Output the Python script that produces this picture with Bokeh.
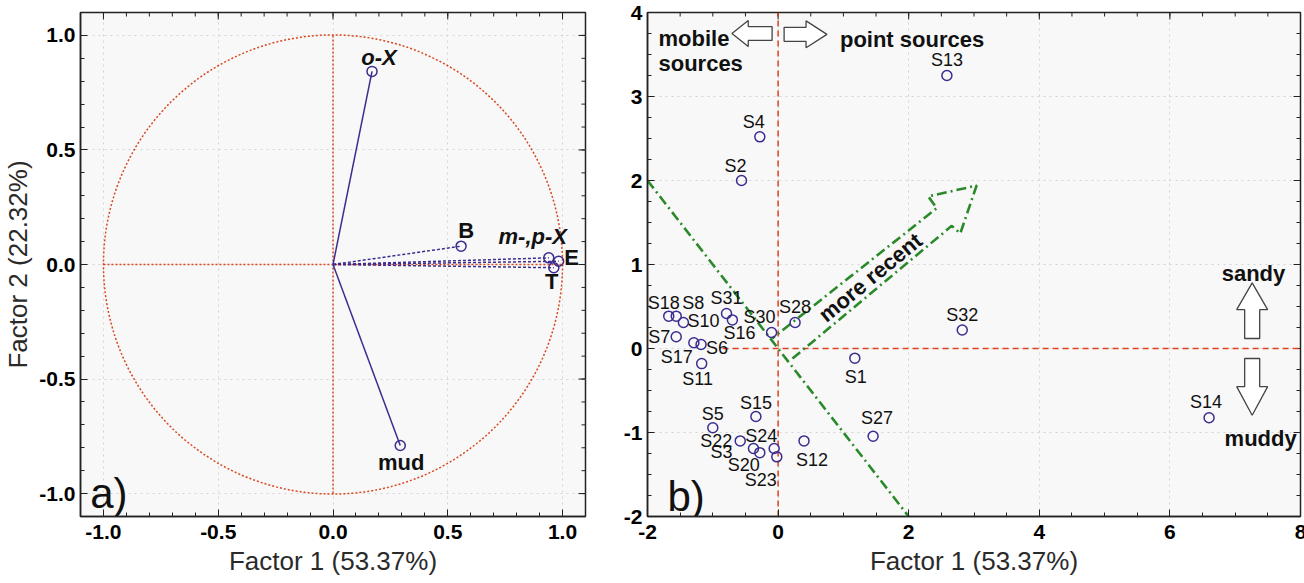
import numpy as np
from bokeh.plotting import figure
from bokeh.layouts import row
from bokeh.models import ColumnDataSource, FixedTicker, PrintfTickFormatter
from bokeh.core.properties import value
from bokeh.embed import file_html
from bokeh.resources import INLINE

# ---------------- data: panel a (factor loadings) ----------------
var_names = ["o-X", "B", "m-,p-X", "E", "T", "mud"]
var_f1 = [0.170, 0.558, 0.940, 0.983, 0.962, 0.293]
var_f2 = [0.843, 0.080, 0.029, 0.014, -0.014, -0.790]

# ---------------- data: panel b (factor scores) ----------------
site_names = ["S1", "S2", "S3", "S4", "S5", "S6", "S7", "S8", "S10", "S11",
              "S12", "S13", "S14", "S15", "S16", "S17", "S18", "S20", "S22",
              "S23", "S24", "S27", "S28", "S30", "S31", "S32"]
site_f1 = [1.175, -0.56, -0.377, -0.28, -1.00, -1.18, -1.56, -1.56, -1.45, -1.17,
           0.397, 2.585, 6.60, -0.34, -0.70, -1.29, -1.675, -0.28, -0.58,
           -0.02, -0.06, 1.455, 0.26, -0.10, -0.79, 2.82]
site_f2 = [-0.115, 2.00, -1.19, 2.52, -0.944, 0.048, 0.14, 0.385, 0.31, -0.18,
           -1.10, 3.25, -0.825, -0.81, 0.34, 0.068, 0.385, -1.24, -1.10,
           -1.29, -1.19, -1.044, 0.31, 0.19, 0.417, 0.22]

ticks_a = [-1.0, -0.5, 0.0, 0.5, 1.0]
ticks_bx = [-2, 0, 2, 4, 6, 8]
ticks_by = [-2, -1, 0, 1, 2, 3, 4]

x_title = "Factor 1 (53.37%)"
y_title = "Factor 2 (22.32%)"

# ---------------- styles ----------------
FONT = "Liberation Sans"
BLUE = "#3b2d8f"
RED = "#d9471f"
RED2 = "#e0401c"
GREEN = "#2a8a2a"
BG = "#f8f8f8"
FRAME = "#222222"
DASHDOT = "10 4 2 4"

# label offsets (pixels, screen: +x right, +y down)
var_offsets = {"o-X": (7, -14), "B": (5, -16), "m-,p-X": (-16, -21),
               "E": (13, -4), "T": (-2, 14), "mud": (1, 17)}
var_italic = {"o-X", "m-,p-X"}
var_solid = {"o-X", "mud"}

site_offsets = {"S1": (1, 19), "S2": (-6, -15), "S3": (-32, 4), "S4": (-6, -15),
                "S5": (0, -14), "S6": (16, 4), "S7": (-17, 0), "S8": (17, -13),
                "S10": (20, -1), "S11": (-4, 15), "S12": (8, 19), "S13": (0, -16),
                "S14": (-3, -16), "S15": (0, -14), "S16": (7, 13), "S17": (-17, 14),
                "S18": (-5, -13), "S20": (-16, 12), "S22": (-24, 0), "S23": (-16, 23),
                "S24": (-13, -12), "S27": (4, -18), "S28": (0, -15), "S30": (-12, -16),
                "S31": (0, -15), "S32": (0, -15)}


def style_fig(p, xt, yt, xminor, yminor, xr, yr, fmt, show_ytitle):
    p.xaxis.ticker = FixedTicker(ticks=xt, minor_ticks=xminor)
    p.yaxis.ticker = FixedTicker(ticks=yt, minor_ticks=yminor)
    p.xaxis.formatter = PrintfTickFormatter(format=fmt)
    p.yaxis.formatter = PrintfTickFormatter(format=fmt)
    p.xgrid.ticker = FixedTicker(ticks=xt)
    p.ygrid.ticker = FixedTicker(ticks=yt)
    for g in (p.xgrid[0], p.ygrid[0]):
        g.grid_line_color = "#d4d4d4"
        g.grid_line_dash = "dotted"
        g.grid_line_width = 1
    for ax in (p.xaxis[0], p.yaxis[0]):
        ax.major_label_text_font = FONT
        ax.major_label_text_font_style = "bold"
        ax.major_label_text_font_size = "21px"
        ax.major_label_text_color = "#000000"
        ax.axis_label_text_font = FONT
        ax.axis_label_text_font_style = "normal"
        ax.axis_label_text_font_size = "26px"
        ax.axis_label_text_color = "#2a2a2a"
        ax.axis_line_color = FRAME
        ax.axis_line_width = 1.5
        ax.major_tick_in = 7
        ax.major_tick_out = 0
        ax.minor_tick_in = 4
        ax.minor_tick_out = 0
        ax.major_tick_line_color = FRAME
        ax.minor_tick_line_color = FRAME
    p.xaxis[0].major_label_standoff = 8
    p.xaxis[0].axis_label_standoff = 4
    p.xaxis[0].axis_label = x_title
    p.yaxis[0].major_label_standoff = 5
    p.yaxis[0].axis_label_standoff = 3
    if show_ytitle:
        p.yaxis[0].axis_label = y_title
    # tick marks on the top and right frame edges (pointing inwards)
    xmaj = [t for t in xt if xr[0] < t < xr[1]]
    ymaj = [t for t in yt if yr[0] < t < yr[1]]
    xmin_ = [t for t in xminor if xr[0] < t < xr[1]]
    ymin_ = [t for t in yminor if yr[0] < t < yr[1]]
    for xs, ln in ((xmaj, 7), (xmin_, 4)):
        p.ray(x=xs, y=[yr[1]] * len(xs), length=ln, length_units="screen",
              angle=-np.pi / 2, line_color=FRAME, line_width=1)
    for ys, ln in ((ymaj, 7), (ymin_, 4)):
        p.ray(x=[xr[1]] * len(ys), y=ys, length=ln, length_units="screen",
              angle=np.pi, line_color=FRAME, line_width=1)


# ======================= panel a =======================
xr_a = (-1.1, 1.1)
p1 = figure(frame_width=505, frame_height=504, x_range=xr_a, y_range=xr_a,
            output_backend="svg", toolbar_location=None,
            min_border_left=76, min_border_right=15, min_border_top=12, min_border_bottom=50,
            background_fill_color=BG, border_fill_color="white",
            outline_line_color=FRAME, outline_line_width=1.5)
minor_a = [round(-1.1 + 0.1 * i, 2) for i in range(23)]
style_fig(p1, ticks_a, ticks_a, minor_a, minor_a, xr_a, xr_a, "%.1f", True)

# unit circle and axes
p1.circle(x=[0], y=[0], radius=1, fill_color=None, line_color=RED,
          line_dash="2 2", line_width=1.5)
p1.line([-1, 1], [0, 0], line_color=RED, line_dash="2 2", line_width=1.5)
p1.line([0, 0], [-1, 1], line_color=RED, line_dash="2 2", line_width=1.5)

solid = ColumnDataSource(dict(
    x=[f for n, f in zip(var_names, var_f1) if n in var_solid],
    y=[f for n, f in zip(var_names, var_f2) if n in var_solid]))
dashed = ColumnDataSource(dict(
    x=[f for n, f in zip(var_names, var_f1) if n not in var_solid],
    y=[f for n, f in zip(var_names, var_f2) if n not in var_solid]))
p1.segment(x0=0, y0=0, x1="x", y1="y", source=solid, line_color=BLUE, line_width=1.5)
p1.segment(x0=0, y0=0, x1="x", y1="y", source=dashed, line_color=BLUE, line_width=1.5,
           line_dash="3 2")
p1.scatter(var_f1, var_f2, marker="circle", size=10, fill_color=None,
           line_color=BLUE, line_width=1.5)

for italic in (True, False):
    sel = [i for i, n in enumerate(var_names) if (n in var_italic) == italic]
    src = ColumnDataSource(dict(
        x=[var_f1[i] for i in sel], y=[var_f2[i] for i in sel],
        t=[var_names[i] for i in sel],
        dx=[var_offsets[var_names[i]][0] for i in sel],
        dy=[var_offsets[var_names[i]][1] for i in sel]))
    p1.text(x="x", y="y", text="t", x_offset="dx", y_offset="dy", source=src,
            text_font=value(FONT), text_font_size="22px",
            text_font_style="bold italic" if italic else "bold",
            text_align="center", text_baseline="middle", text_color="#111111")

p1.text(x=[-1.058], y=[-1.0], text=["a)"], text_font=value(FONT), text_font_size="42px",
        text_align="left", text_baseline="alphabetic", text_color="#111111")

# ======================= panel b =======================
xr_b = (-2, 8)
yr_b = (-2, 4)
p2 = figure(frame_width=653, frame_height=504, x_range=xr_b, y_range=yr_b,
            output_backend="svg", toolbar_location=None,
            min_border_left=47, min_border_right=8, min_border_top=9, min_border_bottom=53,
            background_fill_color=BG, border_fill_color="white",
            outline_line_color=FRAME, outline_line_width=1.5)
style_fig(p2, ticks_bx, ticks_by, [-2 + 0.5 * i for i in range(21)],
          [-2 + 0.25 * i for i in range(25)], xr_b, yr_b, "%d", False)

# reference lines
p2.line([0, 0], [-2, 4], line_color=RED2, line_dash="6 4", line_width=1.5)
p2.line([-0.85, 8], [0, 0], line_color=RED2, line_dash="6 4", line_width=1.5)
p2.line([-2, 2], [2, -2], line_color=GREEN, line_dash=DASHDOT, line_width=2.6)

# "more recent" arrow outline
arr_x = [0.22, 2.66, 2.79, 3.04, 2.30, 2.43, -0.09]
arr_y = [-0.12, 1.46, 1.37, 1.94, 1.81, 1.67, 0.12]
p2.line(arr_x, arr_y, line_color=GREEN, line_dash=DASHDOT, line_width=2.6)
p2.text(x=[1.415], y=[0.845], text=["more recent"], angle=0.688,
        text_font=value(FONT), text_font_size="22px", text_font_style="bold",
        text_align="center", text_baseline="middle", text_color="#111111")


def harrow(tail, tip, yc, sh, hh, hl):
    d = 1 if tip > tail else -1
    b = tip - d * hl
    return ([tail, b, b, tip, b, b, tail], [yc - sh, yc - sh, yc - hh, yc, yc + hh, yc + sh, yc + sh])


def varrow(tail, tip, xc, sw, hw, hl):
    d = 1 if tip > tail else -1
    b = tip - d * hl
    return ([xc - sw, xc - sw, xc - hw, xc, xc + hw, xc + sw, xc + sw], [tail, b, b, tip, b, b, tail])


shapes = [harrow(-0.092, -0.707, 3.75, 0.083, 0.155, 0.25),
          harrow(0.092, 0.748, 3.74, 0.083, 0.160, 0.32),
          varrow(0.119, 0.782, 7.26, 0.115, 0.237, 0.32),
          varrow(-0.119, -0.794, 7.26, 0.115, 0.237, 0.34)]
p2.patches([s[0] for s in shapes], [s[1] for s in shapes], fill_color="white",
           line_color="#444444", line_width=1.3)

bold_txt = dict(text_font=value(FONT), text_font_size="22px", text_font_style="bold",
                text_color="#111111", text_baseline="alphabetic")
p2.text(x=[-1.832, -1.832], y=[3.69, 3.39], text=["mobile", "sources"], text_align="left", **bold_txt)
p2.text(x=[0.947], y=[3.68], text=["point sources"], text_align="left", **bold_txt)
p2.text(x=[7.28], y=[0.893], text=["sandy"], text_align="center", **bold_txt)
p2.text(x=[7.39], y=[-1.07], text=["muddy"], text_align="center", **bold_txt)

p2.scatter(site_f1, site_f2, marker="circle", size=10, fill_color=None,
           line_color=BLUE, line_width=1.5)
src_s = ColumnDataSource(dict(x=site_f1, y=site_f2, t=site_names,
                              dx=[site_offsets[n][0] for n in site_names],
                              dy=[site_offsets[n][1] for n in site_names]))
p2.text(x="x", y="y", text="t", x_offset="dx", y_offset="dy", source=src_s,
        text_font=value(FONT), text_font_size="18px", text_align="center",
        text_baseline="middle", text_color="#111111")

p2.text(x=[-1.695], y=[-1.762], text=["b)"], text_font=value(FONT), text_font_size="42px",
        text_align="left", text_baseline="alphabetic", text_color="#111111")

layout = row(p1, p2)
open("out.html", "w").write(file_html(layout, INLINE))
